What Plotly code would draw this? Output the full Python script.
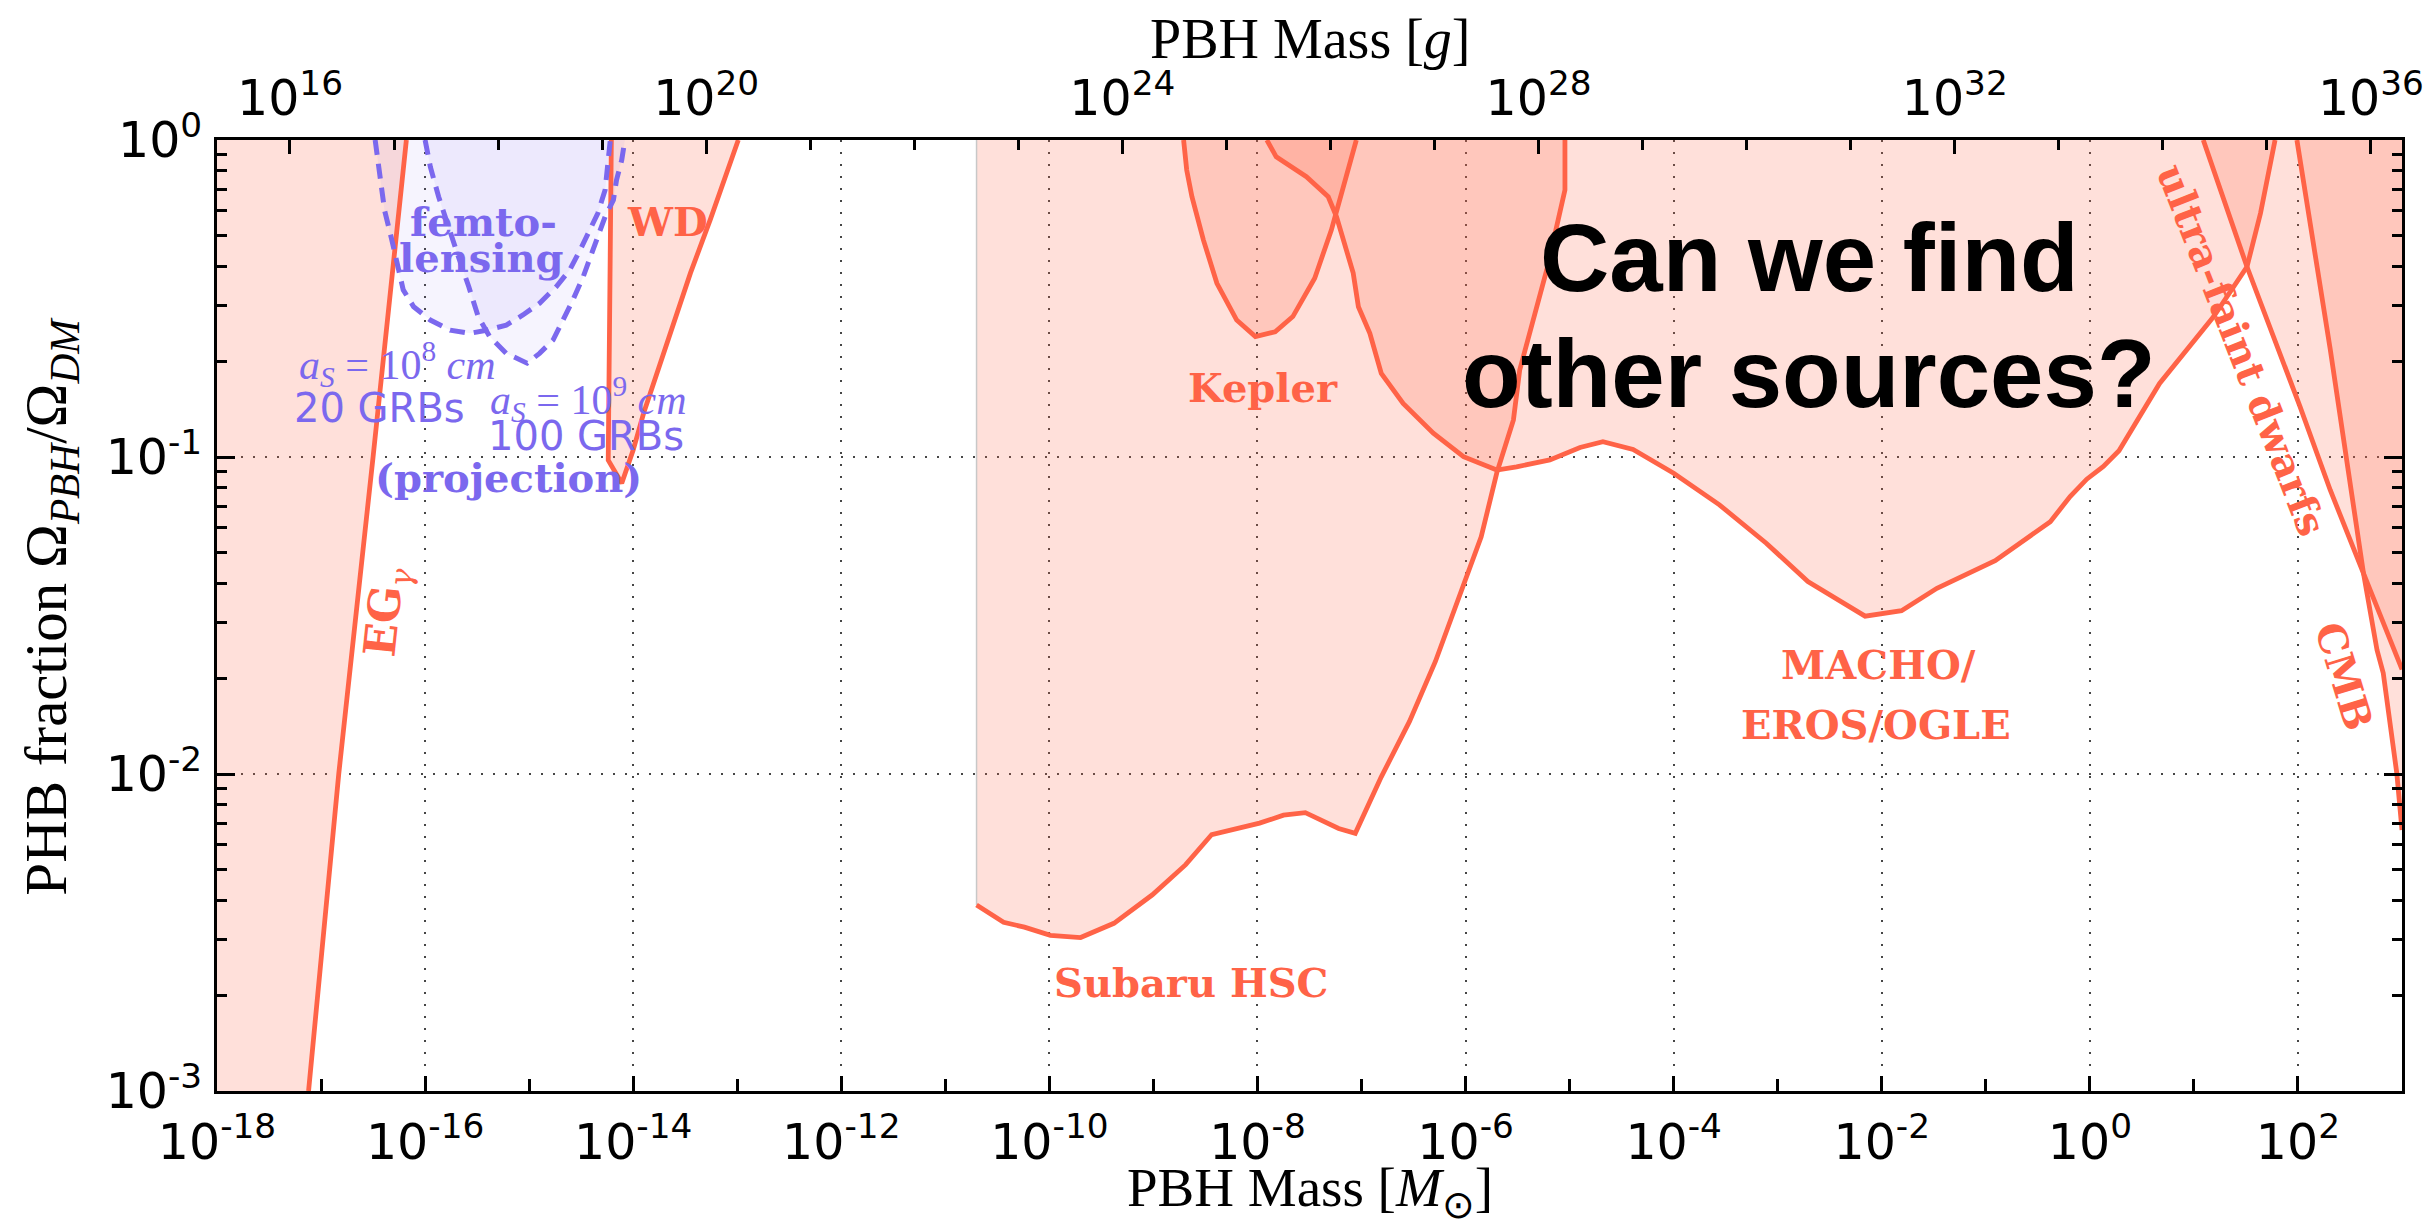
import math
import plotly.graph_objects as go

# ---------------- data (log10 values) ----------------
LOG_MSUN_G = math.log10(1.989e33)   # grams per solar mass
X_LOG_RANGE = [-18, 3]
Y_LOG_RANGE = [-3, 0]

# extragalactic gamma rays
eg_logm = [-17.12, -16.83, -16.50, -16.18]
eg_logf = [-3.0, -2.0, -1.0, 0.0]

# white dwarfs
wd_logm = [-14.21, -14.24, -14.11, -14.00, -13.90, -13.77, -13.61, -13.45, -13.26, -13.10, -12.99]
wd_logf = [0.0, -1.01, -1.083, -0.978, -0.862, -0.736, -0.578, -0.42, -0.252, -0.105, 0.0]

# femtolensing projections
femA_logm = [-16.48, -16.43, -16.39, -16.32, -16.26, -16.21, -16.11, -15.95, -15.76, -15.57, -15.41,
             -15.22, -15.06, -14.90, -14.74, -14.61, -14.51, -14.42, -14.34, -14.27, -14.24, -14.22]
femA_logf = [0.0, -0.116, -0.221, -0.315, -0.41, -0.473, -0.526, -0.568, -0.60, -0.61, -0.60,
             -0.584, -0.552, -0.515, -0.463, -0.41, -0.347, -0.284, -0.231, -0.158, -0.074, 0.0]
femB_logm = [-16.00, -15.95, -15.87, -15.78, -15.68, -15.58, -15.49, -15.38, -15.22, -15.02, -14.90,
             -14.77, -14.67, -14.58, -14.48, -14.42, -14.34, -14.27, -14.19, -14.16, -14.11, -14.08]
femB_logf = [0.0, -0.084, -0.179, -0.273, -0.368, -0.463, -0.557, -0.62, -0.673, -0.704, -0.673,
             -0.631, -0.568, -0.505, -0.431, -0.379, -0.305, -0.242, -0.189, -0.126, -0.063, 0.0]

# Subaru HSC
hsc_logm = [-10.70, -10.44, -10.24, -9.99, -9.70, -9.38, -9.01, -8.69, -8.44, -7.98, -7.75, -7.54,
            -7.22, -7.06, -6.81, -6.54, -6.29, -6.02, -5.85, -5.70, -5.54, -5.48, -5.35, -5.22,
            -5.11, -5.045, -5.045]
hsc_logf = [-2.413, -2.468, -2.483, -2.509, -2.516, -2.471, -2.381, -2.286, -2.191, -2.155, -2.130,
            -2.122, -2.172, -2.187, -2.009, -1.835, -1.645, -1.405, -1.252, -1.05, -0.883, -0.726,
            -0.568, -0.41, -0.252, -0.158, 0.0]

# Kepler
kep_logm = [-8.71, -8.68, -8.63, -8.52, -8.39, -8.20, -8.02, -7.83, -7.66, -7.45, -7.29, -7.18, -7.05]
kep_logf = [0.0, -0.095, -0.179, -0.315, -0.452, -0.568, -0.62, -0.605, -0.557, -0.436, -0.284, -0.158, 0.0]

# MACHO / EROS / OGLE
macho_logm = [-7.91, -7.82, -7.53, -7.32, -7.24, -7.08, -7.03, -6.92, -6.81, -6.60, -6.31, -6.02,
              -5.70, -5.51, -5.19, -4.90, -4.68, -4.39, -4.00, -3.56, -3.11, -2.71, -2.16, -1.81,
              -1.47, -0.91, -0.38, -0.19, -0.03, 0.13, 0.28, 0.46, 0.67, 1.19, 1.51, 1.64, 1.78]
macho_logf = [0.0, -0.053, -0.116, -0.179, -0.242, -0.42, -0.526, -0.61, -0.736, -0.831, -0.925,
              -0.999, -1.041, -1.031, -1.009, -0.970, -0.952, -0.976, -1.051, -1.151, -1.272,
              -1.393, -1.502, -1.485, -1.414, -1.327, -1.204, -1.125, -1.07, -1.03, -0.98, -0.88,
              -0.768, -0.557, -0.40, -0.231, 0.0]

# ultra-faint dwarfs
ufd_logm = [1.09, 1.51, 2.02, 2.31, 2.63, 2.89, 3.0]
ufd_logf = [0.0, -0.40, -0.841, -1.104, -1.367, -1.577, -1.67]

# CMB
cmb_logm = [1.99, 2.31, 2.63, 2.76, 2.82, 2.95, 3.0]
cmb_logf = [0.0, -0.66, -1.367, -1.609, -1.682, -1.998, -2.177]

# tick exponents
x_major_exp = list(range(-18, 3, 2))
x_minor_exp = list(range(-17, 3, 2))
top_major_exp = [16, 20, 24, 28, 32, 36]
top_minor_exp = [e for e in range(16, 37) if e not in top_major_exp]
y_major_exp = [-3, -2, -1, 0]

# ---------------- styling ----------------
TOMATO = "rgb(255,99,71)"
TOMATO_FILL = "rgba(255,99,71,0.2)"
BLUE = "rgb(123,104,238)"
BLUE_FILL = "rgba(123,104,238,0.07)"
TICK_FONT = dict(family="DejaVu Sans", size=49, color="black")
LBL = "DejaVu Serif"


def pw(vals):
    return [10.0 ** v for v in vals]


XMIN = 10.0 ** X_LOG_RANGE[0]
XMAX = 10.0 ** X_LOG_RANGE[1]
YTOP = 10.0 ** Y_LOG_RANGE[1]

fig = go.Figure()


def fill_poly(xs, ys, color):
    fig.add_trace(go.Scatter(x=xs, y=ys, mode="lines", fill="toself", fillcolor=color,
                             line=dict(width=0), hoverinfo="skip", showlegend=False))


def line(xs, ys, color=TOMATO, width=4.8, dash=None):
    fig.add_trace(go.Scatter(x=xs, y=ys, mode="lines",
                             line=dict(color=color, width=width, dash=dash),
                             hoverinfo="skip", showlegend=False))


# fills
fill_poly([XMIN] + pw(eg_logm) + [XMIN], [10.0 ** eg_logf[0]] + pw(eg_logf) + [YTOP], TOMATO_FILL)
fill_poly(pw(wd_logm), pw(wd_logf), TOMATO_FILL)
fill_poly(pw(hsc_logm) + [10.0 ** hsc_logm[0]], pw(hsc_logf) + [YTOP], TOMATO_FILL)
fill_poly(pw(kep_logm), pw(kep_logf), TOMATO_FILL)
fill_poly(pw(macho_logm), pw(macho_logf), TOMATO_FILL)
fill_poly(pw(ufd_logm) + [XMAX], pw(ufd_logf) + [YTOP], TOMATO_FILL)
fill_poly(pw(cmb_logm) + [XMAX], pw(cmb_logf) + [YTOP], TOMATO_FILL)
fill_poly(pw(femA_logm), pw(femA_logf), BLUE_FILL)
fill_poly(pw(femB_logm), pw(femB_logf), BLUE_FILL)

# edge of the Subaru region
line([10.0 ** hsc_logm[0]] * 2, [10.0 ** hsc_logf[0], YTOP], color="rgb(200,200,200)", width=1.5)

# constraint lines
line(pw(eg_logm), pw(eg_logf))
line(pw(wd_logm), pw(wd_logf))
line(pw(hsc_logm), pw(hsc_logf))
line(pw(kep_logm), pw(kep_logf))
line(pw(macho_logm), pw(macho_logf))
line(pw(ufd_logm), pw(ufd_logf))
line(pw(cmb_logm), pw(cmb_logf))
line(pw(femA_logm), pw(femA_logf), color=BLUE, width=5, dash="15px,9px")
line(pw(femB_logm), pw(femB_logf), color=BLUE, width=5, dash="15px,9px")

# dummy trace to register the top (grams) axis
fig.add_trace(go.Scatter(x=[], y=[], xaxis="x2", yaxis="y", showlegend=False, hoverinfo="skip"))


def sup_lbl(e):
    return "10<sup>%d</sup>" % e


common_axis = dict(showline=True, linecolor="black", linewidth=3, ticks="inside",
                   tickcolor="black", tickwidth=3, zeroline=False, tickfont=TICK_FONT)

fig.update_layout(
    width=2435, height=1224,
    margin=dict(l=217, r=33, t=140, b=133),
    paper_bgcolor="white", plot_bgcolor="white", showlegend=False,
    xaxis=dict(type="log", range=X_LOG_RANGE, tickmode="array",
               tickvals=pw(x_major_exp), ticktext=[sup_lbl(e) for e in x_major_exp],
               ticklen=15, mirror=False, showgrid=True, gridcolor="rgb(70,70,70)",
               gridwidth=2, griddash="2px,10px", ticklabelstandoff=6,
               minor=dict(tickvals=pw(x_minor_exp), ticks="inside", ticklen=12,
                          tickwidth=3, tickcolor="black", showgrid=False),
               **common_axis),
    xaxis2=dict(type="log", overlaying="x", side="top", anchor="y",
                range=[X_LOG_RANGE[0] + LOG_MSUN_G, X_LOG_RANGE[1] + LOG_MSUN_G],
                tickmode="array", tickvals=pw(top_major_exp),
                ticktext=[sup_lbl(e) for e in top_major_exp], ticklen=14,
                showgrid=False, ticklabelstandoff=2,
                minor=dict(tickvals=pw(top_minor_exp), ticks="inside", ticklen=10,
                           tickwidth=3, tickcolor="black", showgrid=False),
                **common_axis),
    yaxis=dict(type="log", range=Y_LOG_RANGE, tickmode="array",
               tickvals=pw(y_major_exp), ticktext=[sup_lbl(e) for e in y_major_exp],
               ticklen=18, mirror="ticks", showgrid=True, gridcolor="rgb(70,70,70)",
               gridwidth=2, griddash="2px,10px", ticklabelstandoff=2,
               minor=dict(tickvals=[m * 10.0 ** e for e in range(-3, 0) for m in range(2, 10)],
                          ticks="inside", ticklen=10, tickwidth=3, tickcolor="black",
                          showgrid=False),
               **common_axis),
)

ann = []


def label(text, lx, ly, size=40, color=TOMATO, family=LBL, angle=0, xa="center"):
    ann.append(dict(text=text, x=lx, y=ly, xref="x", yref="y", showarrow=False,
                    textangle=angle, xanchor=xa, yanchor="middle",
                    font=dict(family=family, size=size, color=color)))


# constraint labels
label("<b>femto-</b>", -15.434, -0.256, color=BLUE)
label("<b>lensing</b>", -15.458, -0.372, color=BLUE)
label("<b>(projection)</b>", -15.194, -1.066, color=BLUE)
label("<i>a</i><sub><i>S</i></sub> = 10<sup>8</sup> <i>cm</i>", -16.27, -0.707, size=42,
      color=BLUE, family="Liberation Serif")
label("20 GRBs", -16.437, -0.844, size=40, color=BLUE, family="DejaVu Sans")
label("<i>a</i><sub><i>S</i></sub> = 10<sup>9</sup> <i>cm</i>", -14.425, -0.817, size=42,
      color=BLUE, family="Liberation Serif")
label("100 GRBs", -14.456, -0.934, size=40, color=BLUE, family="DejaVu Sans")
label("<b>WD</b>", -13.670, -0.256)
label("<b>Kepler</b>", -7.944, -0.782)
label("<b>Subaru HSC</b>", -8.639, -2.658)
label("<b>MACHO/</b>", -2.027, -1.655)
label("<b>EROS/OGLE</b>", -2.056, -1.845)
label("<b>EG</b><sub><i>γ</i></sub>", -16.376, -1.489, size=44, angle=-84)
label("<b>ultra-faint dwarfs</b>", 1.459, -0.662, angle=68.5)
label("<b>CMB</b>", 2.452, -1.691, angle=73)
label("<b>Can we find</b>", -2.69, -0.372, size=96, color="black", family="Liberation Sans")
label("<b>other sources?</b>", -2.70, -0.735, size=96, color="black", family="Liberation Sans")

# axis titles (as paper annotations)
TITLE_FONT = dict(family="Liberation Serif", size=55, color="black")
ann.append(dict(text="PBH Mass [<i>M</i><sub>⊙</sub>]", x=0.5, y=-0.1055, xref="paper",
                yref="paper", showarrow=False, xanchor="center", yanchor="middle",
                font=TITLE_FONT))
ann.append(dict(text="PBH Mass [<i>g</i>]", x=0.5, y=1.1067, xref="paper", yref="paper",
                showarrow=False, xanchor="center", yanchor="middle",
                font=dict(family="Liberation Serif", size=56, color="black")))
ann.append(dict(text="PHB fraction Ω<sub><i>PBH</i></sub>/Ω<sub><i>DM</i></sub>",
                x=-0.0762, y=0.5098, xref="paper", yref="paper", showarrow=False,
                textangle=-90, xanchor="center", yanchor="middle",
                font=dict(family="Liberation Serif", size=59, color="black")))

fig.update_layout(annotations=ann)
fig.write_html("out.html")
